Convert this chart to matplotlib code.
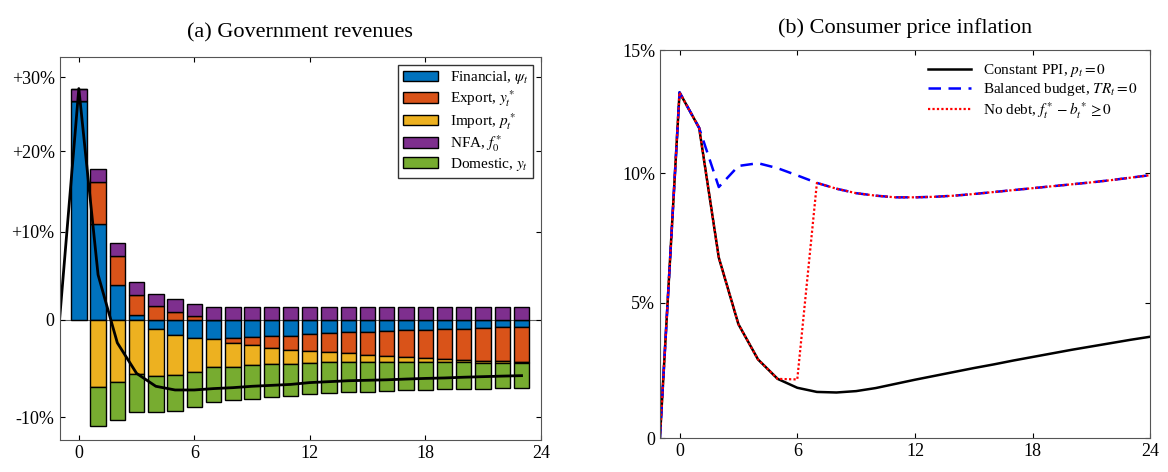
import numpy as np
import matplotlib
matplotlib.use("Agg")
import matplotlib.pyplot as plt

plt.rcParams['font.family'] = 'Liberation Serif'
plt.rcParams['mathtext.fontset'] = 'stix'

# values are in log points (100*ln(1+x)), axes labelled in percent
periods = list(range(24))
financial = [23.7, 10.4, 3.7, 0.47, -0.97, -1.7, -1.94, -2.05, -1.94, -1.87, -1.8, -1.73,
             -1.6, -1.47, -1.38, -1.3, -1.22, -1.15, -1.08, -1.0, -0.97, -0.9, -0.83, -0.8]
export = [0, 4.5, 3.2, 2.2, 1.45, 0.83, 0.36, 0, -0.54, -0.9, -1.22, -1.51,
          -1.78, -2.03, -2.25, -2.5, -2.74, -2.91, -3.09, -3.3, -3.38, -3.56, -3.67, -3.77]
imports = [0, -7.3, -6.7, -5.9, -5.1, -4.3, -3.7, -3.1, -2.6, -2.16, -1.8, -1.51,
           -1.3, -1.1, -0.94, -0.73, -0.57, -0.47, -0.4, -0.3, -0.25, -0.22, -0.15, -0.1]
nfa = [1.3, 1.4, 1.4, 1.4, 1.35, 1.4, 1.37, 1.33, 1.33, 1.33, 1.33, 1.33,
       1.33, 1.33, 1.33, 1.33, 1.33, 1.33, 1.33, 1.33, 1.33, 1.33, 1.33, 1.33]
domestic = [0, -4.2, -4.1, -4.1, -3.9, -3.9, -3.75, -3.75, -3.6, -3.64, -3.57, -3.45,
            -3.32, -3.3, -3.27, -3.24, -3.13, -3.1, -2.98, -2.9, -2.88, -2.77, -2.72, -2.67]
total_x = list(range(-1, 24))
total = [0, 25.0, 4.86, -2.5, -5.8, -7.2, -7.6, -7.6, -7.45, -7.35, -7.2, -7.1, -7.0,
         -6.8, -6.7, -6.6, -6.55, -6.5, -6.42, -6.35, -6.3, -6.22, -6.16, -6.1, -6.05]

months = list(range(-1, 25))
constant_ppi = [0, 12.45, 11.17, 6.5, 4.1, 2.83, 2.13, 1.81, 1.66, 1.64, 1.69, 1.8, 1.95,
                2.1, 2.24, 2.38, 2.52, 2.65, 2.79, 2.92, 3.05, 3.18, 3.3, 3.42, 3.54, 3.65]
balanced = [0, 12.45, 11.17, 9.04, 9.8, 9.9, 9.72, 9.46, 9.19, 8.98, 8.82, 8.73, 8.67,
            8.67, 8.69, 8.73, 8.79, 8.86, 8.93, 9.0, 9.07, 9.14, 9.21, 9.29, 9.38, 9.47]
no_debt = [0, 12.45, 11.17, 6.5, 4.1, 2.83, 2.13, 2.11, 9.19, 8.98, 8.82, 8.73, 8.67,
           8.67, 8.69, 8.73, 8.79, 8.86, 8.93, 9.0, 9.07, 9.14, 9.21, 9.29, 9.38, 9.47]

fig = plt.figure(figsize=(11.68, 4.72), dpi=100)
ax1 = fig.add_axes([0.051, 0.068, 0.412, 0.811])
ax2 = fig.add_axes([0.565, 0.072, 0.420, 0.822])

series = [(financial, '#0072BD', r'Financial, $\psi_t$'),
          (export, '#D95319', r'Export, $y^*_t$'),
          (imports, '#EDB120', r'Import, $p^*_t$'),
          (nfa, '#7E2F8E', r'NFA, $f^*_0$'),
          (domestic, '#77AC30', r'Domestic, $y_t$')]
pos = np.zeros(len(periods))
neg = np.zeros(len(periods))
for vals, col, lab in series:
    v = np.array(vals)
    base = np.where(v >= 0, pos, neg)
    ax1.bar(periods, v, bottom=base, width=0.8, color=col, edgecolor='black',
            linewidth=1.0, label=lab)
    pos = pos + np.where(v >= 0, v, 0)
    neg = neg + np.where(v < 0, v, 0)
ax1.plot(total_x, total, color='black', lw=2)
ax1.axhline(0, color='black', lw=0.8, alpha=0.6)
ax1.set_xlim(-1, 24)
ax1.set_ylim(-13, 28.4)
ax1.set_xticks([0, 6, 12, 18, 24])
yt = [100 * np.log(1 + p) for p in [-0.1, 0, 0.1, 0.2, 0.3]]
ax1.set_yticks(yt)
ax1.set_yticklabels(['-10%', '0', '+10%', '+20%', '+30%'])
ax1.set_title('(a) Government revenues', fontsize=16, pad=14)
ax1.legend(loc='upper right', fontsize=11, handlelength=2.3, borderpad=0.3,
           labelspacing=0.12, fancybox=False, edgecolor='black')

ax2.plot(months, constant_ppi, color='black', lw=1.8, label=r'Constant PPI, $p_t = 0$')
ax2.plot(months, balanced, color='blue', lw=1.8, ls=(0, (5, 3)),
         label=r'Balanced budget, $TR_t = 0$')
ax2.plot(months, no_debt, color='red', lw=1.6, ls=(0, (1, 1)),
         label=r'No debt, $f^*_t - b^*_t \geq 0$')
ax2.set_xlim(-1, 24)
ax2.set_ylim(0, 100 * np.log(1.15))
ax2.set_xticks([0, 6, 12, 18, 24])
ax2.set_yticks([100 * np.log(1 + p) for p in [0, 0.05, 0.10, 0.15]])
ax2.set_yticklabels(['0', '5%', '10%', '15%'])
ax2.set_title('(b) Consumer price inflation', fontsize=16, pad=12)
ax2.legend(loc='upper right', fontsize=11, handlelength=2.8, borderpad=0.3,
           labelspacing=0.12, frameon=False)

for ax in (ax1, ax2):
    ax.tick_params(labelsize=13, direction='in', top=True, right=True)
    for s in ax.spines.values():
        s.set_color('#555555')

fig.savefig('out.png', dpi=100)
